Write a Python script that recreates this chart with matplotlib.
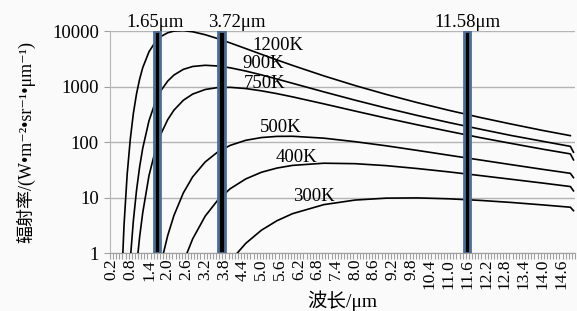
import numpy as np
import matplotlib
matplotlib.use('Agg')
import matplotlib.pyplot as plt
from matplotlib.ticker import FixedLocator, NullFormatter

plt.rcParams['font.family'] = ['Liberation Serif', 'DejaVu Serif', 'Noto Sans CJK SC']

# wavelength (um) and radiance
wl = [0.5, 0.6, 0.7, 0.8, 0.9, 1.0, 1.1, 1.2, 1.4, 1.6, 1.8, 2.0, 2.2, 2.5, 2.8,
      3.2, 3.6, 4.0, 4.5, 5.0, 5.5, 6.0, 7.0, 8.0, 9.0, 10.0, 11.0, 12.0, 13.0,
      14.0, 14.9, 15.0]
nan = np.nan
r1200 = [0.15, 3.2, 26, 112, 331, 738, 1362, 2195, 4229, 6324, 8081, 9293, 9970, 10160, 9692,
         8579, 7306, 6106, 4831, 3811, 3016, 2403, 1559, 1045, 723, 514, 375, 279, 212,
         163, 131, nan]
r900 = [nan, nan, 0.085, 0.76, 3.9, 13.5, 36, 78, 243, 519, 875, 1256, 1615, 2041, 2300,
        2416, 2349, 2178, 1904, 1624, 1368, 1146, 804, 570, 411, 302, 226, 172, 132,
        104, 84, 66]
r750 = [nan, nan, nan, nan, 0.11, 0.56, 1.97, 5.4, 25, 70, 148, 254, 377, 567, 733,
        886, 960, 969, 922, 839, 746, 653, 489, 363, 271, 205, 157, 121, 95,
        75, 61.5, 48]
r500 = [nan, nan, nan, nan, nan, nan, nan, nan, 0.026, 0.175, 0.72, 2.09, 4.8, 12.2, 23.8,
        44, 66.5, 87.5, 108, 121, 127, 127.6, 118, 102, 86, 71, 58.3, 47.9, 39.4,
        32.5, 27.5, 23]
r400 = [nan, nan, nan, nan, nan, nan, nan, nan, nan, nan, nan, nan, 0.18, 0.69, 1.82,
        4.66, 9.0, 14.5, 21.8, 28.7, 34.2, 38.2, 41.8, 41.0, 37.8, 33.5, 29.2, 25.1, 21.5,
        18.4, 15.9, 13.3]
r300 = [nan, nan, nan, nan, nan, nan, nan, nan, nan, nan, nan, nan, nan, nan, nan,
        nan, 0.32, 0.72, 1.51, 2.6, 3.86, 5.17, 7.51, 9.08, 9.83, 9.93, 9.57, 8.96, 8.23,
        7.44, 6.75, 5.85]

curves = [r1200, r900, r750, r500, r400, r300]
temp_labels = ['1200K', '900K', '750K', '500K', '400K', '300K']
label_x = [4.7, 4.4, 4.45, 4.95, 5.45, 6.0]
label_y = [5600, 2570, 1120, 180, 52, 10.5]

band_x = [1.65, 3.72, 11.58]
band_labels = ['1.65μm', '3.72μm', '11.58μm']
band_label_x = [1.58, 4.21, 11.59]

xtick_vals = [0.2, 0.8, 1.4, 2.0, 2.6, 3.2, 3.8, 4.4, 5.0, 5.6, 6.2, 6.8, 7.4, 8.0,
              8.6, 9.2, 9.8, 10.4, 11.0, 11.6, 12.2, 12.8, 13.4, 14.0, 14.6]
ytick_vals = [1, 10, 100, 1000, 10000]

bg = '#fafafa'
fig = plt.figure(figsize=(5.77, 3.11), dpi=100, facecolor=bg)
ax = fig.add_axes([0.1906, 0.1855, 0.806, 0.7148])
ax.set_facecolor(bg)

for vals in curves:
    ax.plot(wl, vals, color='black', lw=1.2, zorder=3)

ax.bar(band_x, [9999] * 3, bottom=1, width=0.2, color='black',
       edgecolor='#4f6e92', linewidth=2.0, zorder=4)

ax.set_yscale('log')
ax.set_ylim(1, 10000)
ax.set_xlim(0.15, 15.05)

ax.yaxis.set_major_locator(FixedLocator(ytick_vals))
ax.yaxis.set_minor_locator(FixedLocator([]))
ax.set_yticklabels([str(v) for v in ytick_vals], fontsize=13.5)
ax.grid(axis='y', color='#b4b4b4', lw=1.0, zorder=0)

ax.xaxis.set_major_locator(FixedLocator(xtick_vals))
ax.set_xticklabels(['%.1f' % v for v in xtick_vals], rotation=90, fontsize=12.5)
ax.xaxis.set_minor_locator(FixedLocator(np.arange(0.15, 15.1, 0.1)))
ax.xaxis.set_minor_formatter(NullFormatter())
ax.tick_params(axis='x', which='major', length=0, pad=4)
ax.tick_params(axis='x', which='minor', length=4, color='#a0a0a0', width=0.8)
ax.tick_params(axis='y', length=4, color='#a0a0a0', width=0.8, pad=4)

for s in ['top', 'right']:
    ax.spines[s].set_visible(False)
ax.spines['left'].set_color('#b4b4b4')
ax.spines['bottom'].set_color('#a0a0a0')

for t, lx, ly in zip(temp_labels, label_x, label_y):
    ax.text(lx, ly, t, fontsize=13.5, ha='left', va='center', zorder=5)

for t, lx in zip(band_labels, band_label_x):
    ax.text(lx, 10000, t, fontsize=13.5, ha='center', va='bottom')

ax.set_ylabel('辐射率/(W•m⁻²•sr⁻¹•μm⁻¹)', fontsize=13, labelpad=12)
ax.set_xlabel('波长/μm', fontsize=14, labelpad=1)

fig.savefig('out.png', dpi=100, facecolor=bg)
